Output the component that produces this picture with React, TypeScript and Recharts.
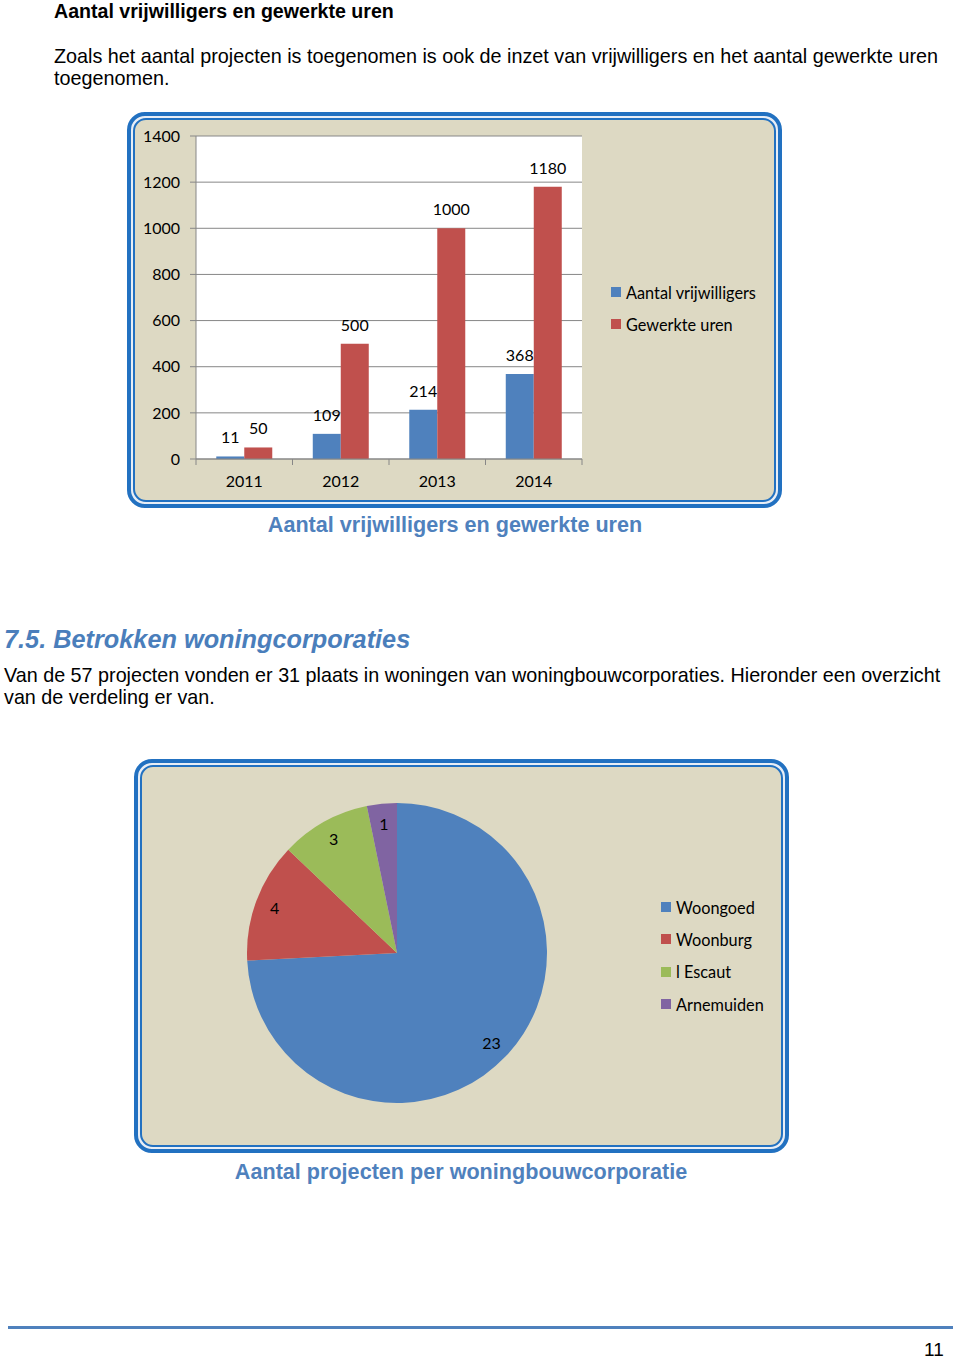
import React from "react";
import {
  BarChart,
  Bar,
  XAxis,
  YAxis,
  CartesianGrid,
  LabelList,
  Legend,
  PieChart,
  Pie,
  Cell,
} from "recharts";

const years = ["2011", "2012", "2013", "2014"];
const vrijwilligers = [11, 109, 214, 368];
const urenGewerkt = [50, 500, 1000, 1180];
const barSeries = ["Aantal vrijwilligers", "Gewerkte uren"];
const yTicks = [0, 200, 400, 600, 800, 1000, 1200, 1400];

const corporaties = ["Woongoed", "Woonburg", "l Escaut", "Arnemuiden"];
const projecten = [23, 4, 3, 1];

const C_BLUE = "#4f81bd";
const C_RED = "#c0504d";
const C_GREEN = "#9bbb59";
const C_PURPLE = "#8064a2";
const C_FRAME = "#2271c1";
const C_BEIGE = "#ddd9c3";
const C_GRID = "#878787";
const C_HEAD = "#4a7ebb";

const chartFont = "Lato, 'Open Sans', sans-serif";
const docFont = "'Liberation Sans', Arial, sans-serif";

const barData = years.map((y, i) => ({
  year: y,
  [barSeries[0]]: vrijwilligers[i],
  [barSeries[1]]: urenGewerkt[i],
}));

const pieData = corporaties.map((name, i) => ({ name, value: projecten[i] }));
const pieColors = [C_BLUE, C_RED, C_GREEN, C_PURPLE];

function Frame({ left, top, width, height }: { left: number; top: number; width: number; height: number }) {
  return (
    <div
      style={{
        position: "absolute",
        left,
        top,
        width,
        height,
        boxSizing: "border-box",
        border: `4px solid ${C_FRAME}`,
        borderRadius: 18,
        background: "#e8eef6",
        padding: 2,
      }}
    >
      <div
        style={{
          width: "100%",
          height: "100%",
          boxSizing: "border-box",
          border: `2px solid ${C_FRAME}`,
          borderRadius: 13,
          background: C_BEIGE,
        }}
      />
    </div>
  );
}

function Line({ top, left, size, children, style }: any) {
  return (
    <div
      style={{
        position: "absolute",
        left,
        top,
        fontFamily: docFont,
        fontSize: size,
        lineHeight: `${size}px`,
        whiteSpace: "nowrap",
        color: "#000",
        ...style,
      }}
    >
      {children}
    </div>
  );
}

function LegendBox({ names, colors, gap }: { names: string[]; colors: string[]; gap: number }) {
  return (
    <div style={{ fontFamily: chartFont, fontSize: 16.3, color: "#000" }}>
      {names.map((n, i) => (
        <div key={n} style={{ display: "flex", alignItems: "center", height: gap }}>
          <span style={{ width: 10, height: 10, background: colors[i], marginRight: 5, display: "inline-block" }} />
          <span>{n}</span>
        </div>
      ))}
    </div>
  );
}

function YearTick(props: any) {
  const { x, y, payload, index, visibleTicksCount, width } = props;
  const band = width / visibleTicksCount;
  const last = index === visibleTicksCount - 1;
  return (
    <g>
      <line x1={x - band / 2} x2={x - band / 2} y1={y} y2={y + 6} stroke={C_GRID} />
      {last && <line x1={x + band / 2} x2={x + band / 2} y1={y} y2={y + 6} stroke={C_GRID} />}
      <text x={x} y={y + 28} textAnchor="middle" fontFamily={chartFont} fontSize={16} fill="#000">
        {payload.value}
      </text>
    </g>
  );
}

const RADIAN = Math.PI / 180;
function PieLabel(props: any) {
  const { cx, cy, midAngle, outerRadius, value } = props;
  const r = outerRadius * 0.87;
  const x = cx + r * Math.cos(-midAngle * RADIAN);
  const y = cy + r * Math.sin(-midAngle * RADIAN);
  return (
    <text x={x} y={y} textAnchor="middle" dominantBaseline="central" fontFamily={chartFont} fontSize={16} fill="#000">
      {value}
    </text>
  );
}

export default function App() {
  return (
    <div style={{ position: "absolute", left: 0, top: 0, width: 960, height: 1359, background: "#fff", overflow: "hidden" }}>
      <Line left={54} top={2} size={19.6} style={{ fontWeight: "bold" }}>
        Aantal vrijwilligers en gewerkte uren
      </Line>
      <Line left={54} top={46.5} size={19.8}>
        Zoals het aantal projecten is toegenomen is ook de inzet van vrijwilligers en het aantal gewerkte uren
      </Line>
      <Line left={54} top={68.5} size={19.8}>
        toegenomen.
      </Line>

      <Frame left={127} top={112} width={655} height={396} />
      <div style={{ position: "absolute", left: 127, top: 112 }}>
        <BarChart
          width={655}
          height={396}
          data={barData}
          margin={{ top: 24, right: 200, left: 19, bottom: 19 }}
          barCategoryGap="21%"
          barGap={0}
        >
          <CartesianGrid vertical={false} stroke={C_GRID} fill="#ffffff" />
          <XAxis
            dataKey="year"
            stroke={C_GRID}
            tickLine={false}
            tickSize={0}
            tickMargin={0}
            height={30}
            tick={<YearTick />}
          />
          <YAxis
            domain={[0, 1400]}
            ticks={yTicks}
            width={50}
            stroke={C_GRID}
            tickSize={6}
            tickMargin={10}
            interval={0}
            tick={{ fontFamily: chartFont, fontSize: 16, fill: "#000" }}
          />
          <Legend
            layout="vertical"
            align="center"
            verticalAlign="middle"
            wrapperStyle={{ left: 484, top: 164, width: 175 }}
            content={() => <LegendBox names={barSeries} colors={[C_BLUE, C_RED]} gap={32} />}
          />
          <Bar dataKey={barSeries[0]} fill={C_BLUE} isAnimationActive={false}>
            <LabelList dataKey={barSeries[0]} position="top" offset={13} fontFamily={chartFont} fontSize={16} fill="#000" />
          </Bar>
          <Bar dataKey={barSeries[1]} fill={C_RED} isAnimationActive={false}>
            <LabelList dataKey={barSeries[1]} position="top" offset={13} fontFamily={chartFont} fontSize={16} fill="#000" />
          </Bar>
        </BarChart>
      </div>
      <Line left={0} top={514} size={21.6} style={{ width: 910, textAlign: "center", fontWeight: "bold", color: C_BLUE }}>
        Aantal vrijwilligers en gewerkte uren
      </Line>

      <Line left={4} top={627} size={25.3} style={{ fontWeight: "bold", fontStyle: "italic", color: C_HEAD }}>
        7.5. Betrokken woningcorporaties
      </Line>
      <Line left={4} top={665.5} size={19.75}>
        Van de 57 projecten vonden er 31 plaats in woningen van woningbouwcorporaties. Hieronder een overzicht
      </Line>
      <Line left={4} top={687.5} size={19.75}>
        van de verdeling er van.
      </Line>

      <Frame left={134} top={759} width={655} height={394} />
      <div style={{ position: "absolute", left: 134, top: 759 }}>
        <PieChart width={655} height={394}>
          <Pie
            data={pieData}
            dataKey="value"
            nameKey="name"
            cx={258}
            cy={189}
            outerRadius={150}
            startAngle={90}
            endAngle={-270}
            stroke="none"
            labelLine={false}
            label={PieLabel}
            isAnimationActive={false}
          >
            {pieData.map((d, i) => (
              <Cell key={d.name} fill={pieColors[i]} />
            ))}
          </Pie>
          <Legend
            layout="vertical"
            align="center"
            verticalAlign="middle"
            wrapperStyle={{ left: 527, top: 132, width: 125 }}
            content={() => <LegendBox names={corporaties} colors={pieColors} gap={32.3} />}
          />
        </PieChart>
      </div>
      <Line left={0} top={1161} size={21.6} style={{ width: 922, textAlign: "center", fontWeight: "bold", color: C_BLUE }}>
        Aantal projecten per woningbouwcorporatie
      </Line>

      <div style={{ position: "absolute", left: 8, top: 1326, width: 945, height: 3, background: C_BLUE }} />
      <Line left={924} top={1340} size={19}>
        11
      </Line>
    </div>
  );
}
